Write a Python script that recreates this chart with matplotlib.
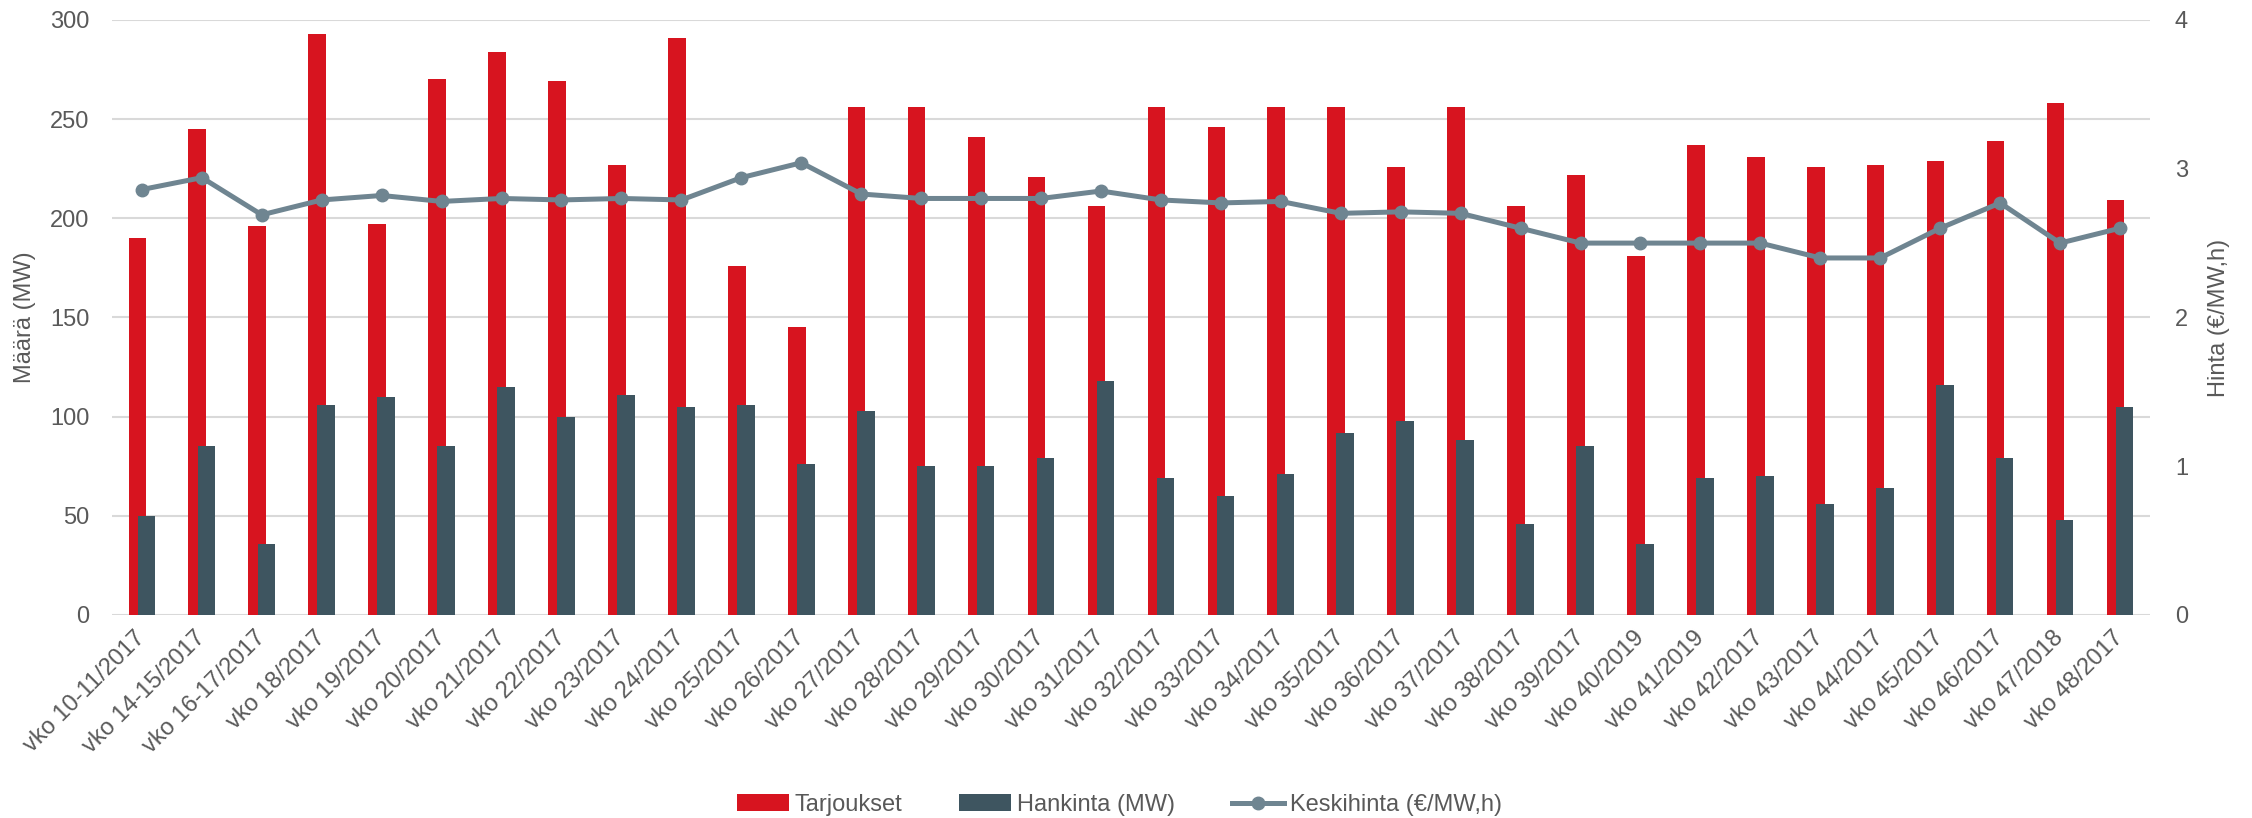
import numpy as np
import matplotlib
matplotlib.use("Agg")
import matplotlib.pyplot as plt

plt.rcParams['font.family'] = ['Liberation Sans', 'DejaVu Sans']

weeks = ["vko 10-11/2017", "vko 14-15/2017", "vko 16-17/2017", "vko 18/2017",
         "vko 19/2017", "vko 20/2017", "vko 21/2017", "vko 22/2017",
         "vko 23/2017", "vko 24/2017", "vko 25/2017", "vko 26/2017",
         "vko 27/2017", "vko 28/2017", "vko 29/2017", "vko 30/2017",
         "vko 31/2017", "vko 32/2017", "vko 33/2017", "vko 34/2017",
         "vko 35/2017", "vko 36/2017", "vko 37/2017", "vko 38/2017",
         "vko 39/2017", "vko 40/2019", "vko 41/2019", "vko 42/2017",
         "vko 43/2017", "vko 44/2017", "vko 45/2017", "vko 46/2017",
         "vko 47/2018", "vko 48/2017"]
tarjoukset = [190, 245, 196, 293, 197, 270, 284, 269, 227, 291, 176, 145,
              256, 256, 241, 221, 206, 256, 246, 256, 256, 226, 256, 206,
              222, 181, 237, 231, 226, 227, 229, 239, 258, 209]
hankinta = [50, 85, 36, 106, 110, 85, 115, 100, 111, 105, 106, 76,
            103, 75, 75, 79, 118, 69, 60, 71, 92, 98, 88, 46,
            85, 36, 69, 70, 56, 64, 116, 79, 48, 105]
keskihinta = [2.86, 2.94, 2.69, 2.79, 2.82, 2.78, 2.80, 2.79, 2.80, 2.79,
              2.94, 3.04, 2.83, 2.80, 2.80, 2.80, 2.85, 2.79, 2.77, 2.78,
              2.70, 2.71, 2.70, 2.60, 2.50, 2.50, 2.50, 2.50, 2.40, 2.40,
              2.60, 2.77, 2.50, 2.60]

red = "#D7141F"
dark = "#3E5560"
linec = "#6F8591"
txt = "#595959"
grid = "#D9D9D9"

fig = plt.figure(figsize=(22.52, 8.18), dpi=100)
ax = fig.add_axes([0.0497, 0.2482, 0.905, 0.7274])
x = np.arange(len(weeks))
w = 0.294
b1 = ax.bar(x - 0.076, tarjoukset, w, color=red, zorder=2, label="Tarjoukset")
b2 = ax.bar(x + 0.076, hankinta, w, color=dark, zorder=3, label="Hankinta (MW)")

ax.set_xlim(-0.5, len(weeks) - 0.5)
ax.set_ylim(0, 300)
ax.set_yticks(range(0, 301, 50))
ax.grid(axis="y", color=grid, linewidth=1.5, zorder=0)
ax.set_axisbelow(True)
for s in ax.spines.values():
    s.set_visible(False)
ax.tick_params(length=0, labelsize=17, colors=txt)
ax.tick_params(axis="y", pad=16)
ax.set_xticks(x)
ax.set_xticklabels(weeks, rotation=45, ha="right", va="center", rotation_mode="anchor")
ax.tick_params(axis="x", pad=14)
ax.set_ylabel("Määrä (MW)", fontsize=17, color=txt, labelpad=10)

ax2 = ax.twinx()
l1, = ax2.plot(x, keskihinta, color=linec, linewidth=3.6, marker="o",
               markersize=9, zorder=4, label="Keskihinta (€/MW,h)")
ax2.set_ylim(0, 4)
ax2.set_yticks(range(0, 5))
for s in ax2.spines.values():
    s.set_visible(False)
ax2.tick_params(length=0, labelsize=17, colors=txt, pad=18)
ax2.set_ylabel("Hinta (€/MW,h)", fontsize=17, color=txt, labelpad=14)

fig.legend(handles=[b1, b2, l1], loc="center", bbox_to_anchor=(0.497, 0.016),
           ncol=3, frameon=False, fontsize=17, labelcolor=txt,
           handlelength=2.2, handletextpad=0.25, columnspacing=2.4)

fig.savefig("out.png", dpi=100)
